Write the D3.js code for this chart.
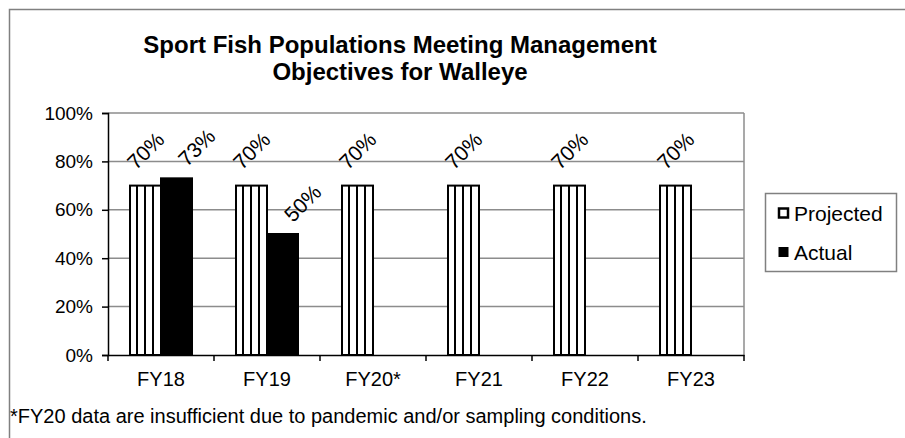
<!DOCTYPE html>
<html>
<head>
<meta charset="utf-8">
<script src="https://cdn.jsdelivr.net/npm/d3@7"></script>
<style>
  body { margin: 0; background: #fff; }
  text { font-family: Arial, "Liberation Sans", sans-serif; fill: #000; }
</style>
</head>
<body>
<div id="chart"></div>
<script>
const categories = ['FY18', 'FY19', 'FY20*', 'FY21', 'FY22', 'FY23']
const projected = [0.70, 0.70, 0.70, 0.70, 0.70, 0.70]
const actual = [0.73, 0.50, null, null, null, null]
const yTicks = [0, 0.2, 0.4, 0.6, 0.8, 1.0]
const seriesNames = ['Projected', 'Actual']
const titleLines = ['Sport Fish Populations Meeting Management', 'Objectives for Walleye']
const footnote = '*FY20 data are insufficient due to pandemic and/or sampling conditions.'

const width = 905, height = 438
const plot = {left: 108, right: 744, top: 113, bottom: 355}
const fontSize = '20px'

const svg = d3.select('#chart').append('svg')
  .attr('width', width)
  .attr('height', height)

// stripe pattern for projected bars, tiled from each bar's left edge
const defs = svg.append('defs')
const pat = defs.append('pattern')
  .attr('id', 'stripes')
  .attr('patternUnits', 'objectBoundingBox')
  .attr('width', 8 / 31).attr('height', 1)
pat.append('rect').attr('width', 8).attr('height', 400).attr('fill', '#fff')
pat.append('rect').attr('x', 6).attr('width', 2).attr('height', 400).attr('fill', '#000')

// outer chart border (runs past the right and bottom edge)
svg.append('rect')
  .attr('x', 9.5).attr('y', 9.5)
  .attr('width', 1000).attr('height', 1000)
  .attr('fill', 'none')
  .attr('stroke', '#808080')
  .attr('stroke-width', 1.5)

const x = d3.scaleBand()
  .domain(categories)
  .range([plot.left, plot.right])

const y = d3.scaleLinear()
  .domain([0, 1])
  .range([plot.bottom, plot.top])

// gridlines
svg.append('g').selectAll('line')
  .data(yTicks.filter(d => d > 0))
  .enter().append('line')
  .attr('x1', plot.left).attr('x2', plot.right)
  .attr('y1', d => y(d)).attr('y2', d => y(d))
  .attr('stroke', '#8c8c8c')
  .attr('stroke-width', 1.5)

// plot right border
svg.append('line')
  .attr('x1', plot.right).attr('x2', plot.right)
  .attr('y1', plot.top).attr('y2', plot.bottom)
  .attr('stroke', '#8c8c8c')
  .attr('stroke-width', 1.5)

// title
svg.append('g').selectAll('text')
  .data(titleLines)
  .enter().append('text')
  .attr('x', 400)
  .attr('y', (d, i) => 53 + i * 27)
  .attr('text-anchor', 'middle')
  .style('font-size', '24px')
  .style('font-weight', 'bold')
  .text(d => d)

const barW = 31
const bx = (d, i) => x(categories[i]) + x.bandwidth() / 2

// projected bars
svg.append('g').selectAll('rect')
  .data(projected)
  .enter().append('rect')
  .attr('x', (d, i) => bx(d, i) - barW)
  .attr('y', d => y(d))
  .attr('width', barW)
  .attr('height', d => y(0) - y(d))
  .attr('fill', 'url(#stripes)')
  .attr('stroke', '#000')
  .attr('stroke-width', 2)

// actual bars
svg.append('g').selectAll('rect')
  .data(actual.map((v, i) => ({v, i})).filter(d => d.v != null))
  .enter().append('rect')
  .attr('x', d => bx(d.v, d.i))
  .attr('y', d => y(d.v))
  .attr('width', barW)
  .attr('height', d => y(0) - y(d.v))
  .attr('fill', '#000')
  .attr('stroke', '#000')
  .attr('stroke-width', 2)

// rotated value labels
const fmt = d3.format('.0%')
svg.append('g').selectAll('text')
  .data(projected)
  .enter().append('text')
  .attr('transform', (d, i) => `translate(${bx(d, i) - barW / 2},${y(d) - 35}) rotate(-45)`)
  .attr('text-anchor', 'middle')
  .attr('dominant-baseline', 'central')
  .style('font-size', '21px')
  .text(d => fmt(d))

svg.append('g').selectAll('text')
  .data(actual.map((v, i) => ({v, i})).filter(d => d.v != null))
  .enter().append('text')
  .attr('transform', d => `translate(${bx(d.v, d.i) + barW / 2 + 20},${y(d.v) - 31}) rotate(-45)`)
  .attr('text-anchor', 'middle')
  .attr('dominant-baseline', 'central')
  .style('font-size', '21px')
  .text(d => fmt(d.v))

// y axis
const yAxis = svg.append('g')
  .attr('transform', `translate(${plot.left},0)`)
  .call(d3.axisLeft(y).tickValues(yTicks).tickFormat(fmt).tickSize(6).tickPadding(9))
yAxis.select('.domain').attr('stroke', '#000').attr('stroke-width', 1.5)
yAxis.selectAll('.tick line').attr('stroke', '#000').attr('stroke-width', 1.5)
yAxis.selectAll('text').style('font-size', '19px').style('font-family', 'Arial, "Liberation Sans", sans-serif')

// x axis
const xAxis = svg.append('g')
  .attr('transform', `translate(0,${plot.bottom})`)
  .call(d3.axisBottom(x).tickSize(0).tickPadding(17))
xAxis.select('.domain').attr('stroke', '#000').attr('stroke-width', 1.5)
xAxis.selectAll('text').style('font-size', fontSize).style('font-family', 'Arial, "Liberation Sans", sans-serif')
xAxis.selectAll('line.sep')
  .data(d3.range(categories.length + 1))
  .enter().append('line')
  .attr('class', 'sep')
  .attr('x1', i => plot.left + i * x.step())
  .attr('x2', i => plot.left + i * x.step())
  .attr('y1', 0).attr('y2', 6)
  .attr('stroke', '#000')
  .attr('stroke-width', 1.5)

// legend
const legend = svg.append('g')
legend.append('rect')
  .attr('x', 765.5).attr('y', 193.5)
  .attr('width', 131).attr('height', 78)
  .attr('fill', '#fff')
  .attr('stroke', '#808080')
  .attr('stroke-width', 1.5)

const items = legend.selectAll('g.item')
  .data(seriesNames)
  .enter().append('g')
  .attr('class', 'item')
  .attr('transform', (d, i) => `translate(778,${213 + i * 39})`)
items.append('rect')
  .attr('x', 1).attr('y', -4.5)
  .attr('width', 9).attr('height', 9)
  .attr('fill', (d, i) => i === 0 ? '#fff' : '#000')
  .attr('stroke', '#000')
  .attr('stroke-width', (d, i) => i === 0 ? 2.5 : 1)
items.append('text')
  .attr('x', 16)
  .attr('dominant-baseline', 'central')
  .style('font-size', '21px')
  .text(d => d)

// footnote
svg.append('text')
  .attr('x', 10)
  .attr('y', 423)
  .style('font-size', fontSize)
  .text(footnote)
</script>
</body>
</html>
